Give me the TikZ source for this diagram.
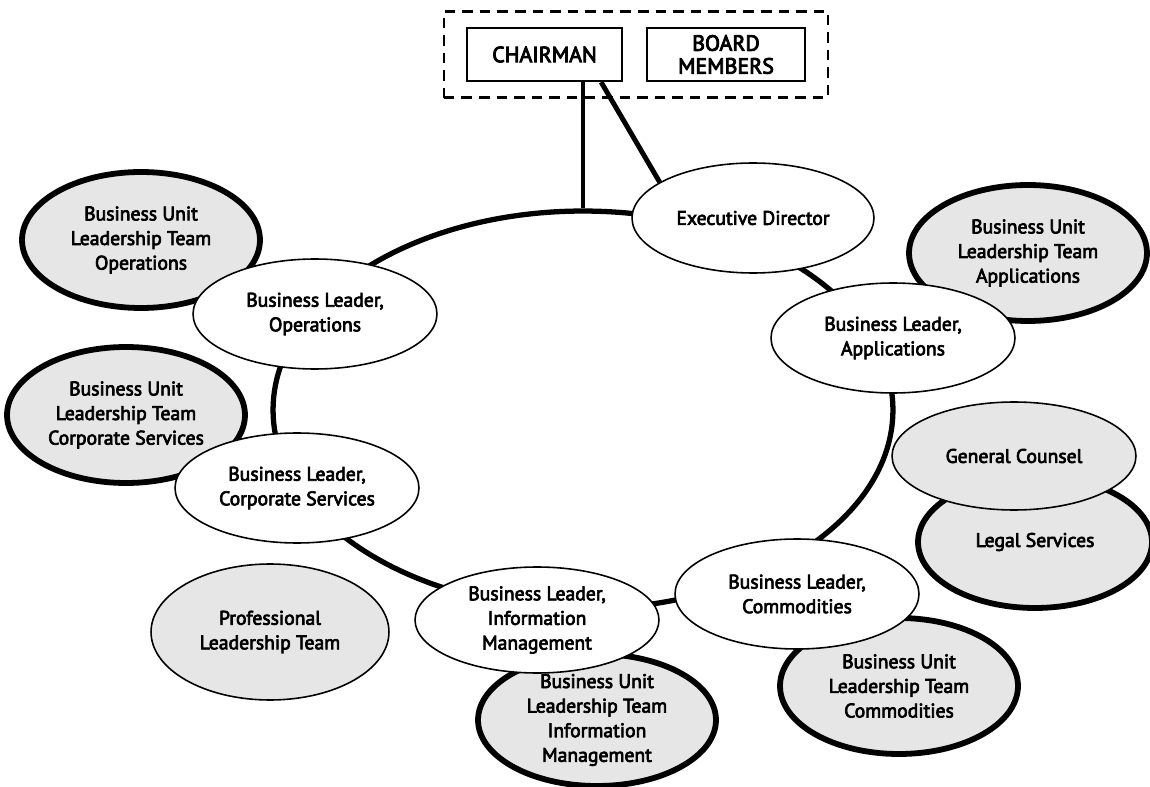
\documentclass[tikz,border=0pt]{standalone}
\usepackage{fontspec}
\newfontfamily\orgfont{PT Sans}[FakeBold=3.5]
\newfontfamily\seatfont{PT Sans}[FakeBold=4]
\usetikzlibrary{positioning, fit, shapes.geometric}
\definecolor{ogInk}{HTML}{000000}
\definecolor{ogFill}{HTML}{E6E6E6}
\tikzset{
  seat/.style={
    draw=ogInk, line width=1.3pt, fill=white, inner sep=0pt,
    align=center, font=\seatfont\fontsize{12.5}{13}\selectfont,
    minimum height=1.06cm
  },
  leader/.style={
    ellipse, draw=ogInk, line width=0.9pt, fill=white, inner sep=0pt,
    align=center, font=\orgfont\fontsize{11.2}{14}\selectfont,
    minimum width=4.88cm, minimum height=2.2cm
  },
  panel/.style={leader, fill=ogFill},
  unit/.style={panel, line width=3.3pt, minimum width=4.76cm, minimum height=2.72cm},
  ring/.style={ellipse, draw=ogInk, line width=3pt, inner sep=0pt,
    minimum width=12.4cm, minimum height=7.96cm},
  board/.style={draw=ogInk, line width=1.5pt, dash pattern=on 6pt off 4pt,
    inner xsep=4.4mm, inner ysep=3.1mm},
  tie/.style={line width=2.8pt, draw=ogInk},
}
\begin{document}
\begin{tikzpicture}[x=0.02cm, y=-0.02cm]
  \useasboundingbox (0,0) rectangle (1150,787);
  \node[ring] (ring) at (583,410) {};

  \node[seat, minimum width=3.1cm] (chair) at (544.5,54.5) {CHAIRMAN};
  \node[seat, minimum width=3.16cm] (members) at (726,54.5) {BOARD\\MEMBERS};
  \node[board, fit=(chair)(members)] (boardroom) {};

  \node[unit] (unitops) at (141,240) {Business Unit\\Leadership Team\\Operations};
  \node[unit] (unitcorp) at (126,415) {Business Unit\\Leadership Team\\Corporate Services};
  \node[unit] (unitapp) at (1028,253) {Business Unit\\Leadership Team\\Applications};
  \node[unit] (unitcom) at (899,686) {Business Unit\\Leadership Team\\Commodities};
  \node[unit, minimum height=2.64cm] (unitinfo) at (597,720)
    {Business Unit\\Leadership Team\\Information\\Management};
  \node[unit, minimum width=4.68cm, minimum height=2.64cm] (legal) at (1035,542) {Legal Services};
  \node[panel, minimum width=4.76cm, minimum height=2.72cm] (profteam) at (270,632)
    {Professional\\Leadership Team};
  \node[panel, minimum height=2.16cm] (counsel) at (1014,456) {General Counsel};

  \node[leader] (leadops) at (315,314) {Business Leader,\\Operations};
  \node[leader] (leadcorp) at (297,488) {Business Leader,\\Corporate Services};
  \node[leader, minimum height=2.12cm] (leadinfo) at (537,620)
    {Business Leader,\\Information\\Management};
  \node[leader] (leadcom) at (797,594) {Business Leader,\\Commodities};
  \node[leader] (leadapp) at (893,338) {Business Leader,\\Applications};
  \node[leader, minimum width=4.84cm] (exec) at (753,218) {Executive Director};

  \draw[tie] (chair.south -| ring.north) -- (ring.north);
  \draw[tie] ([xshift=-0.44cm]chair.south east) -- (exec.159);
\end{tikzpicture}
\end{document}
